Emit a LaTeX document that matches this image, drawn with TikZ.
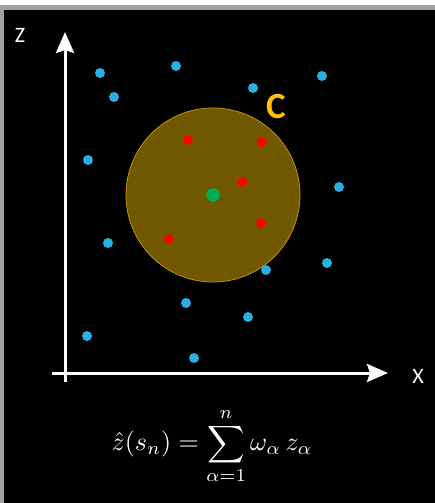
\documentclass[tikz,border=0pt]{standalone}
\usepackage{amsmath,amssymb}
\usepackage{fontspec}
\newfontfamily\axisfont{Carlito}
\usepackage{tikz}
\usetikzlibrary{arrows.meta}

\definecolor{dotblue}{RGB}{41,175,228}
\definecolor{dotred}{RGB}{255,0,0}
\definecolor{dotgreen}{RGB}{0,176,80}
\definecolor{cgold}{RGB}{255,192,0}
\definecolor{cfill}{RGB}{112,88,0}
\definecolor{cline}{RGB}{196,148,0}
\definecolor{frame}{RGB}{160,160,160}

\begin{document}
\begin{tikzpicture}[x=1pt,y=-1pt,>={Stealth[length=21pt,width=18pt,inset=3pt]},
  dot/.style={circle,inner sep=0pt,minimum size=10pt,fill=#1},
  axislabel/.style={text=white,font=\axisfont\fontsize{22}{24}\selectfont}]
\useasboundingbox (0,0) rectangle (435,503);
% frame and background
\fill[white] (0,0) rectangle (435,5);
\fill[frame] (0,5) rectangle (435,10);
\fill[frame] (0,10) rectangle (3.5,503);
\fill[black] (3.5,10) rectangle (435,503);
% neighbourhood C
\node[circle,minimum size=174pt,inner sep=0pt,fill=cfill,draw=cline,line width=0.8pt] (nbhd) at (213,195) {};
\node[text=cgold,font=\axisfont\bfseries\fontsize{37}{39}\selectfont] (clabel) at (276,106) {C};
% axes
\coordinate (origin) at (65,373);
\coordinate (ybot) at (65,382);
\coordinate (ytop) at (65,32);
\coordinate (xleft) at (52,373);
\coordinate (xright) at (388,373);
\draw[white,line width=3pt,->] (ybot) -- (ytop);
\draw[white,line width=3pt,->] (xleft) -- (xright);
\node[axislabel] (zlab) at (20,35) {Z};
\node[axislabel] (xlab) at (418,376) {X};
% sample points outside C
\foreach \px/\py [count=\i] in {100/73,176/66,114/97,253/88,322/76,88/160,339/187,108/243,266/270,327/263,186/303,248/317,87/336,194/358}
  \node[dot=dotblue] (b\i) at (\px,\py) {};
% sample points inside C
\foreach \px/\py [count=\i] in {188/140,262/142,242/182,261/223,169/239}
  \node[dot=dotred] (r\i) at (\px,\py) {};
% estimation point
\node[dot=dotgreen,minimum size=13.5pt] (s0) at (213,195) {};
% estimator
\node[text=white,scale=2.6,transform shape,inner sep=0pt] (est) at (212,446)
  {$\displaystyle \hat{z}(s_n)=\sum_{\alpha=1}^{n}\omega_\alpha\, z_\alpha$};
\end{tikzpicture}
\end{document}
